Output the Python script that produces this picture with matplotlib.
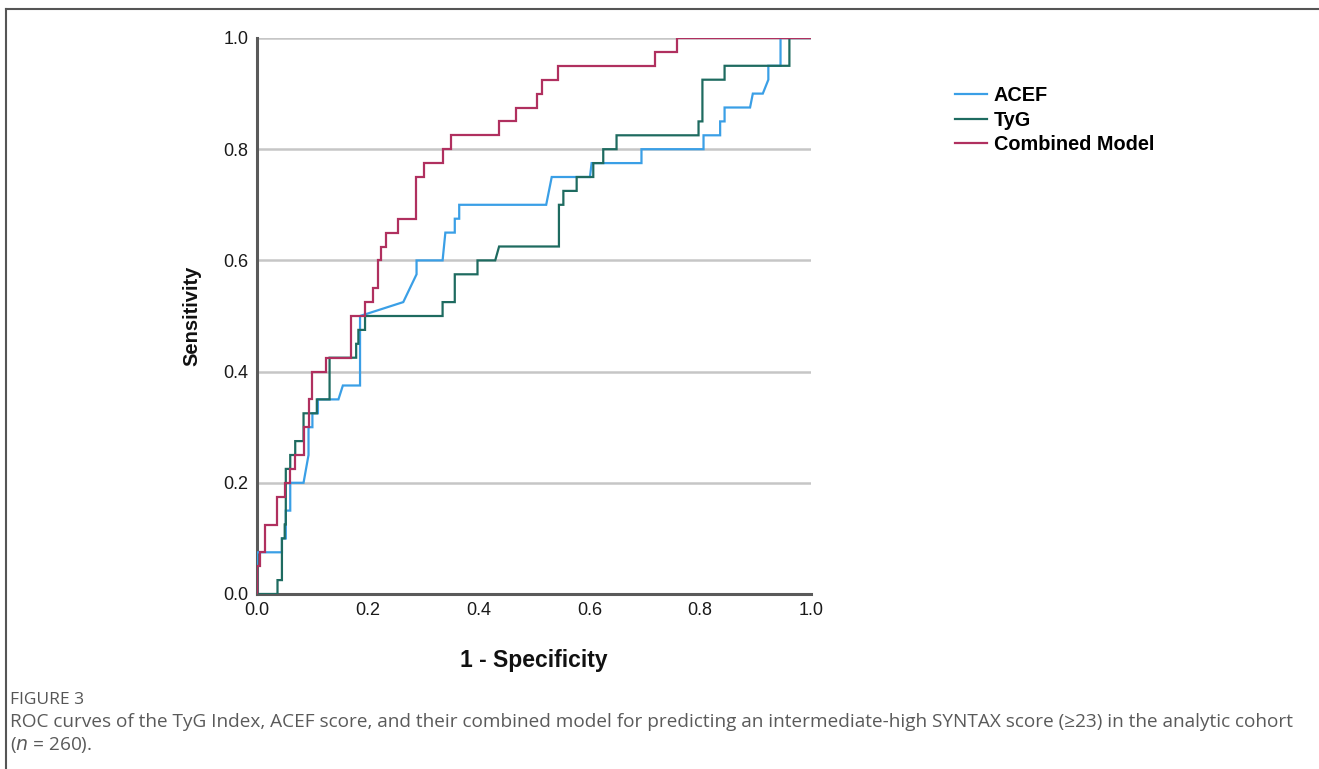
import matplotlib
matplotlib.use("Agg")
import matplotlib.pyplot as plt
from matplotlib.lines import Line2D

# ---- data ----
acef_fpr = [0, 0, 0.045, 0.045, 0.052, 0.052, 0.06, 0.06, 0.084, 0.093, 0.093, 0.100, 0.100, 0.110, 0.110,
            0.147, 0.155, 0.186, 0.186, 0.264, 0.288, 0.288, 0.335, 0.340, 0.357, 0.357, 0.365, 0.365,
            0.522, 0.532, 0.601, 0.604, 0.694, 0.694, 0.806, 0.806, 0.836, 0.836, 0.844, 0.844,
            0.890, 0.895, 0.913, 0.923, 0.923, 0.945, 0.945, 1.0]
acef_tpr = [0, 0.075, 0.075, 0.1, 0.1, 0.15, 0.15, 0.2, 0.2, 0.25, 0.3, 0.3, 0.325, 0.325, 0.35,
            0.35, 0.375, 0.375, 0.5, 0.525, 0.575, 0.6, 0.6, 0.65, 0.65, 0.675, 0.675, 0.7,
            0.7, 0.75, 0.75, 0.775, 0.775, 0.8, 0.8, 0.825, 0.825, 0.85, 0.85, 0.875,
            0.875, 0.9, 0.9, 0.925, 0.95, 0.95, 1.0, 1.0]

tyg_fpr = [0, 0.037, 0.037, 0.045, 0.045, 0.050, 0.050, 0.052, 0.052, 0.060, 0.060, 0.069, 0.069,
           0.084, 0.084, 0.108, 0.108, 0.131, 0.131, 0.179, 0.179, 0.183, 0.183, 0.195, 0.195,
           0.335, 0.335, 0.357, 0.357, 0.398, 0.398, 0.430, 0.437, 0.545, 0.545, 0.553, 0.553,
           0.577, 0.577, 0.607, 0.607, 0.625, 0.625, 0.649, 0.649, 0.797, 0.797, 0.804, 0.804,
           0.844, 0.844, 0.961, 0.961, 1.0]
tyg_tpr = [0, 0, 0.025, 0.025, 0.1, 0.1, 0.125, 0.125, 0.225, 0.225, 0.25, 0.25, 0.275,
           0.275, 0.325, 0.325, 0.35, 0.35, 0.425, 0.425, 0.45, 0.45, 0.475, 0.475, 0.5,
           0.5, 0.525, 0.525, 0.575, 0.575, 0.6, 0.6, 0.625, 0.625, 0.7, 0.7, 0.725,
           0.725, 0.75, 0.75, 0.775, 0.775, 0.8, 0.8, 0.825, 0.825, 0.85, 0.85, 0.925,
           0.925, 0.95, 0.95, 1.0, 1.0]

comb_fpr = [0, 0, 0.005, 0.005, 0.014, 0.014, 0.036, 0.036, 0.051, 0.051, 0.059, 0.059, 0.069, 0.069,
            0.084, 0.084, 0.093, 0.093, 0.100, 0.100, 0.125, 0.125, 0.169, 0.169, 0.195, 0.195,
            0.209, 0.209, 0.218, 0.218, 0.223, 0.223, 0.233, 0.233, 0.255, 0.255, 0.287, 0.287,
            0.301, 0.301, 0.335, 0.335, 0.350, 0.350, 0.436, 0.436, 0.467, 0.467, 0.506, 0.506,
            0.515, 0.515, 0.544, 0.544, 0.718, 0.718, 0.758, 0.758, 1.0]
comb_tpr = [0, 0.05, 0.05, 0.075, 0.075, 0.125, 0.125, 0.175, 0.175, 0.2, 0.2, 0.225, 0.225, 0.25,
            0.25, 0.3, 0.3, 0.35, 0.35, 0.4, 0.4, 0.425, 0.425, 0.5, 0.5, 0.525,
            0.525, 0.55, 0.55, 0.6, 0.6, 0.625, 0.625, 0.65, 0.65, 0.675, 0.675, 0.75,
            0.75, 0.775, 0.775, 0.8, 0.8, 0.825, 0.825, 0.85, 0.85, 0.875, 0.875, 0.9,
            0.9, 0.925, 0.925, 0.95, 0.95, 0.975, 0.975, 1.0, 1.0]

series_names = ["ACEF", "TyG", "Combined Model"]
tick_values = [0.0, 0.2, 0.4, 0.6, 0.8, 1.0]
tick_labels = ["0.0", "0.2", "0.4", "0.6", "0.8", "1.0"]

colors = ["#3a9fe6", "#1e6b60", "#b0305f"]

W, H = 1319, 769
fig = plt.figure(figsize=(W / 100, H / 100), dpi=100)
fig.patch.set_facecolor("white")

def fx(px):
    return px / W

def fy(py):
    return 1 - py / H

ax = fig.add_axes([fx(257), fy(594), fx(811) - fx(257), fy(38) - fy(594)])
ax.set_xlim(0, 1)
ax.set_ylim(0, 1)

for v in tick_values[1:]:
    ax.axhline(v, color="#c6c6c6", lw=1.8, zorder=1)

for fpr, tpr, c, name in zip([acef_fpr, tyg_fpr, comb_fpr], [acef_tpr, tyg_tpr, comb_tpr],
                             colors, series_names):
    ax.plot(fpr, tpr, color=c, lw=1.6, label=name, zorder=3, solid_joinstyle="miter")

for s in ["top", "right"]:
    ax.spines[s].set_visible(False)
for s in ["left", "bottom"]:
    ax.spines[s].set_color("#5a5a5a")
    ax.spines[s].set_linewidth(2.2)

ax.set_xticks(tick_values)
ax.set_xticklabels(tick_labels)
ax.set_yticks(tick_values)
ax.set_yticklabels(tick_labels)
ax.tick_params(axis="both", length=0, labelsize=13, colors="#1a1a1a")
ax.tick_params(axis="x", pad=6)
ax.tick_params(axis="y", pad=6)
for lab in ax.get_xticklabels() + ax.get_yticklabels():
    lab.set_family("Liberation Sans")

ax.set_xlabel("1 - Specificity", family="Liberation Sans", fontsize=16.5, fontweight="bold",
              labelpad=21, color="#111111")
ax.set_ylabel("Sensitivity", family="Liberation Sans", fontsize=14.5, fontweight="bold",
              labelpad=16, color="#111111")

leg = ax.legend(loc="upper left", bbox_to_anchor=(fx(955), fy(86)), bbox_transform=fig.transFigure,
                frameon=False, handlelength=1.6, handletextpad=0.35, labelspacing=0.28,
                borderaxespad=0, borderpad=0,
                prop={"family": "Liberation Sans", "weight": "bold", "size": 14.3})

# frame lines of the figure panel
fig.add_artist(Line2D([fx(6), fx(6)], [fy(9), 0], transform=fig.transFigure, color="#555555", lw=1.5))
fig.add_artist(Line2D([fx(6), 1], [fy(9), fy(9)], transform=fig.transFigure, color="#555555", lw=1.5))

fig.text(fx(10), fy(700), "FIGURE 3", family="Open Sans", fontsize=12.5, color="#555555",
         va="center", ha="left")
fig.text(fx(10), fy(722),
         "ROC curves of the TyG Index, ACEF score, and their combined model for predicting an "
         "intermediate-high SYNTAX score (\u226523) in the analytic cohort",
         family="Open Sans", fontsize=13.65, color="#5a5a5a", va="center", ha="left")
fig.text(fx(10), fy(745), "($n$ = 260).", family="Open Sans", fontsize=13.65, color="#5a5a5a",
         va="center", ha="left")

fig.savefig("out.png", dpi=100)
